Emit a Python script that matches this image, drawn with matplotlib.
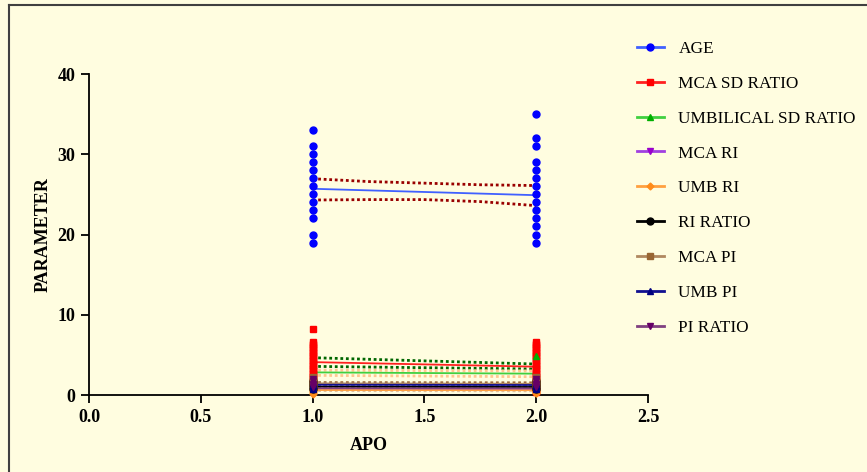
import numpy as np
import matplotlib.pyplot as plt
from matplotlib.lines import Line2D

plt.rcParams['font.family'] = ['Liberation Serif', 'DejaVu Serif']

# group positions on the APO axis
groups = [1, 2]

names = ['AGE', 'MCA SD RATIO', 'UMBILICAL SD RATIO', 'MCA RI', 'UMB RI',
         'RI RATIO', 'MCA PI', 'UMB PI', 'PI RATIO']
colors = ['#0000FF', '#FF0000', '#00B000', '#9900CC', '#FF8C1A',
          '#000000', '#996633', '#000080', '#660066']
legend_line = ['#4060FF', '#FF2020', '#40D040', '#A040E0', '#FFA040',
               '#000000', '#B08860', '#101090', '#804080']
markers = ['o', 's', '^', 'v', 'D', 'o', 's', '^', 'v']
band_colors = ['#990000', '#006600', '#FFC890', '#C0C0C0', '#E0C0A0',
               '#707070', '#996633', '#8080C0', '#40C040']

# values at APO = 1
vals_1 = [
    [33, 31, 30, 29, 28, 27, 26, 25, 24, 23, 22, 20, 19],
    [8.2, 6.6, 6.4, 6.2, 6.0, 5.8, 5.6, 5.4, 5.2, 5.0, 4.8, 4.6, 4.4, 4.2, 4.0,
     3.8, 3.6, 3.4, 3.2, 3.0, 2.8, 2.6, 2.4, 2.2, 2.0, 1.8],
    [1.7, 1.5, 1.3, 1.1],
    [1.0, 0.9, 0.8, 0.7, 0.6, 0.5],
    [0.7, 0.6, 0.5, 0.4, 0.3, 0.1],
    [1.8, 1.6, 1.4, 1.2, 1.0, 0.8],
    [2.2, 2.0, 1.8, 1.6, 1.4, 1.2, 1.0],
    [1.5, 1.3, 1.1, 0.9, 0.7],
    [2.0, 1.7, 1.4, 1.2, 1.0],
]
# values at APO = 2
vals_2 = [
    [35, 32, 31, 29, 28, 27, 26, 25, 24, 23, 22, 21, 20, 19],
    [6.6, 6.4, 6.2, 6.0, 5.8, 5.6, 5.4, 5.2, 5.0, 4.8, 4.6, 4.4, 4.2, 4.0, 3.8,
     3.6, 3.4, 3.2, 3.0, 2.8, 2.6, 2.4, 2.2, 2.0, 1.8, 1.6, 1.4, 1.2, 1.0, 0.8,
     0.6, 0.4],
    [4.8, 1.0, 0.8],
    [0.9, 0.8, 0.7, 0.6, 0.5, 0.4],
    [0.7, 0.6, 0.5, 0.4, 0.3, 0.2],
    [1.8, 1.6, 1.4, 1.2, 1.0, 0.8],
    [2.2, 2.0, 1.8, 1.6, 1.4, 1.2, 1.0],
    [1.5, 1.3, 1.1, 0.9, 0.7],
    [2.0, 1.7, 1.4, 1.2, 1.0],
]

# fitted lines (value at APO 1, value at APO 2)
fit = [[25.7, 24.9], [4.1, 3.53], [2.82, 2.66], [0.78, 0.72], [0.62, 0.6],
       [1.04, 1.0], [1.45, 1.4], [1.28, 1.25], [0.85, 0.83]]
# confidence bands
band_x = [1.0, 1.25, 1.5, 1.75, 2.0]
age_upper = [26.95, 26.6, 26.4, 26.2, 26.1]
age_lower = [24.3, 24.35, 24.35, 24.1, 23.6]
upper = [[4.65, 3.86], [3.1, 3.0], [0.9, 0.85], [0.7, 0.68], [1.15, 1.1],
         [1.55, 1.52], [1.35, 1.32], [0.95, 0.92]]
lower = [[3.57, 3.24], [2.45, 2.28], [0.68, 0.62], [0.55, 0.52], [0.95, 0.9],
         [1.35, 1.3], [1.2, 1.18], [0.75, 0.72]]

bg = '#FFFDE0'
fig = plt.figure(figsize=(8.67, 4.72), dpi=100, facecolor=bg)
ax = fig.add_axes([0.1027, 0.1631, 0.6447, 0.6801], facecolor=bg)

# bands
ax.plot(band_x, age_upper, ls=(0, (1, 1)), lw=2, color=band_colors[0], zorder=2)
ax.plot(band_x, age_lower, ls=(0, (1, 1)), lw=2, color=band_colors[0], zorder=2)
for i in range(1, len(names)):
    ax.plot(groups, upper[i - 1], ls=(0, (1, 1)), lw=2, color=band_colors[i], zorder=2)
    ax.plot(groups, lower[i - 1], ls=(0, (1, 1)), lw=2, color=band_colors[i], zorder=2)

# fit lines
for i in range(len(names)):
    ax.plot(groups, fit[i], color=legend_line[i], lw=1.3, zorder=2.5)

# scatter columns
for i in range(len(names)):
    ms = 5 if markers[i] != 'D' else 3.5
    ax.plot([groups[0]] * len(vals_1[i]), vals_1[i], ls='none', marker=markers[i],
            ms=ms, color=colors[i], mec=colors[i], clip_on=False, zorder=3)
    ax.plot([groups[1]] * len(vals_2[i]), vals_2[i], ls='none', marker=markers[i],
            ms=ms, color=colors[i], mec=colors[i], clip_on=False, zorder=3)

ax.set_xlim(0, 2.5)
ax.set_ylim(0, 40)
ax.set_xticks([0.0, 0.5, 1.0, 1.5, 2.0, 2.5])
ax.set_xticklabels(['0.0', '0.5', '1.0', '1.5', '2.0', '2.5'])
ax.set_yticks([0, 10, 20, 30, 40])
for s in ['top', 'right']:
    ax.spines[s].set_visible(False)
for s in ['left', 'bottom']:
    ax.spines[s].set_linewidth(1.3)
ax.tick_params(direction='out', length=6, width=1.3, labelsize=13, pad=4)
for lab in ax.get_xticklabels() + ax.get_yticklabels():
    lab.set_fontweight('bold')
ax.set_xlabel('APO', fontsize=13, fontweight='bold', labelpad=8)
ax.set_ylabel('PARAMETER', fontsize=13, fontweight='bold', labelpad=4)

handles = [Line2D([0], [0], color=legend_line[i], lw=2, marker=markers[i],
                  ms=5 if markers[i] != 'D' else 3.5, mfc=colors[i], mec=colors[i])
           for i in range(len(names))]
fig.legend(handles, names, loc='upper left', bbox_to_anchor=(0.717, 0.946),
           frameon=False, fontsize=12.4, handlelength=1.55, handletextpad=0.85,
           labelspacing=1.09)

# outer frame lines (top and left)
fig.add_artist(Line2D([9 / 867, 1], [1 - 5 / 472, 1 - 5 / 472],
                      transform=fig.transFigure, color='#404040', lw=1.5))
fig.add_artist(Line2D([9 / 867, 9 / 867], [0, 1 - 5 / 472],
                      transform=fig.transFigure, color='#404040', lw=1.5))

fig.savefig('out.png', dpi=100, facecolor=bg)
